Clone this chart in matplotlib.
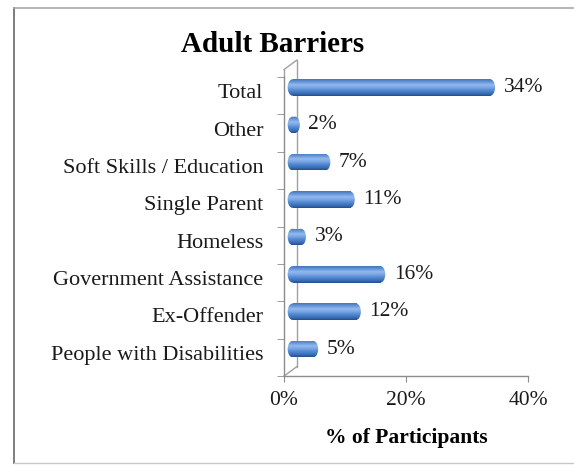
import numpy as np
import matplotlib
matplotlib.use("Agg")
import matplotlib.pyplot as plt
from matplotlib.patches import Rectangle, Ellipse
from matplotlib.lines import Line2D
from matplotlib.colors import LinearSegmentedColormap

# data, bottom to top
categories = ["People with Disabilities", "Ex-Offender", "Government Assistance",
              "Homeless", "Single Parent", "Soft Skills / Education", "Other", "Total"]
percent = [5, 12, 16, 3, 11, 7, 2, 34]
x_ticks = [0, 20, 40]
x_tick_labels = ["0%", "20%", "40%"]

plt.rcParams['font.family'] = ['Liberation Serif', 'DejaVu Serif']

fig = plt.figure(figsize=(5.74, 4.68), dpi=100)
W, H = 574, 468
ax = fig.add_axes([284 / W, 1 - 376 / H, (528 - 284) / W, (376 - 77) / H])
ax.set_facecolor('none')

# outer chart frame (left side darker, no right side)
ft = fig.transFigure
fig.lines.append(Line2D([14 / W, 14 / W], [1 - 463 / H, 1 - 8 / H], transform=ft,
                        color='#7d7d7d', lw=1.4))
fig.lines.append(Line2D([14 / W, 573 / W], [1 - 8 / H, 1 - 8 / H], transform=ft,
                        color='#a8a8a8', lw=1.2))
fig.lines.append(Line2D([14 / W, 573 / W], [1 - 463 / H, 1 - 463 / H], transform=ft,
                        color='#c8c8c8', lw=1.0))

# cylinder shading, bottom -> top
cyl = LinearSegmentedColormap.from_list(
    'cyl', ['#25508f', '#3d72ba', '#5189d2', '#7aa6e4', '#93b9ee', '#6696da', '#4475b8'])
grad = np.linspace(0, 1, 64).reshape(-1, 1)

dx, dy = 0.6, 0.22     # depth shift of bars vs. front axis
bh = 0.44
cap = 1.6

for i, v in enumerate(percent):
    yc = i + dy
    y0 = yc - bh / 2
    x0 = dx + cap / 2
    x1 = dx + v - cap / 2 if v > cap else x0
    pieces = [Rectangle((x0, y0), max(x1 - x0, 0), bh),
              Ellipse((x0, yc), cap, bh),
              Ellipse((x1, yc), cap, bh)]
    for p in pieces:
        p.set_transform(ax.transData)
        im = ax.imshow(grad, extent=[0, v + 2 * cap, y0, y0 + bh], origin='lower',
                       cmap=cyl, aspect='auto', interpolation='bilinear', zorder=3)
        im.set_clip_path(p)
    ax.text(x1 + cap / 2 + 1.4, yc, f"{v}%", va='center', ha='left',
            fontsize=15.5, color='#1a1a1a', zorder=4)

ax.set_xlim(0, 40)
ax.set_ylim(-0.5, 7.5)

# 3D wall lines
wx, wy = 2.1, 0.25
wall = dict(color='#a0a0a0', lw=1.0, clip_on=False, zorder=1)
ax.plot([0, wx], [7.5 + 0.2, 7.5 + 0.2 + wy], **wall)
ax.plot([wx, wx], [-0.5 + wy, 7.5 + 0.2 + wy], **wall)
ax.plot([0, wx], [-0.5, -0.5 + wy], **wall)
ax.plot([0, 0], [7.5, 7.7], **wall)

for s in ['top', 'right']:
    ax.spines[s].set_visible(False)
for s in ['left', 'bottom']:
    ax.spines[s].set_color('#8c8c8c')
    ax.spines[s].set_linewidth(1.0)

ax.set_yticks(np.arange(len(categories)) + 0.12)
ax.set_yticklabels(categories, fontsize=16, color='#1a1a1a')
ax.set_yticks(np.arange(-0.5, len(categories)), minor=True)
ax.tick_params(axis='y', which='major', length=0, pad=15)
ax.tick_params(axis='y', which='minor', length=5, color='#8c8c8c', direction='out')

ax.set_xticks(x_ticks)
ax.set_xticklabels(x_tick_labels, fontsize=15.5, color='#1a1a1a')
ax.tick_params(axis='x', length=4, color='#8c8c8c', direction='out', pad=7)

ax.set_xlabel("% of Participants", fontsize=15.5, fontweight='bold', labelpad=13)
fig.text(273 / W, 1 - 45 / H, "Adult Barriers", fontsize=21, fontweight='bold',
         ha='center', va='center')

fig.savefig("out.png", dpi=100)
